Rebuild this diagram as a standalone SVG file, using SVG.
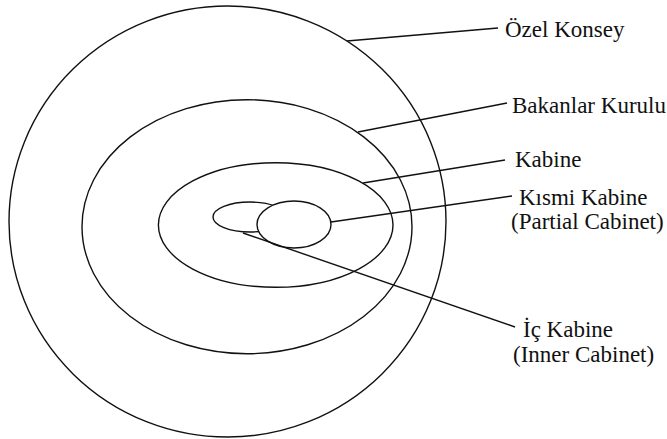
<svg xmlns="http://www.w3.org/2000/svg" width="667" height="439" viewBox="0 0 667 439">
<style>
.shape{fill:#fff;stroke:#111;stroke-width:1.4}
.conn{stroke:#111;stroke-width:1.4;fill:none}
.lbl{font-family:'Liberation Serif','Times New Roman',Times,serif;font-size:23px;fill:#111}
</style>
<rect x="0" y="0" width="667" height="439" fill="#fff"/>
<g id="ozel-konsey"><ellipse class="shape" cx="227.5" cy="221.5" rx="218.5" ry="215.5"/></g>
<g id="bakanlar-kurulu"><ellipse class="shape" cx="247" cy="226.7" rx="165" ry="127"/></g>
<g id="kabine"><ellipse class="shape" cx="275.7" cy="225" rx="117.3" ry="62.3"/></g>
<g id="ic-kabine"><ellipse class="shape" cx="250" cy="217" rx="37" ry="15"/></g>
<g id="kismi-kabine"><ellipse class="shape" cx="294" cy="224.5" rx="37" ry="23.5"/></g>
<g id="connectors">
<line class="conn" x1="347" y1="41" x2="498" y2="28"/>
<line class="conn" x1="358" y1="132" x2="507" y2="103"/>
<line class="conn" x1="363" y1="183" x2="505" y2="160"/>
<line class="conn" x1="331" y1="222" x2="512" y2="196"/>
<line class="conn" x1="243" y1="233" x2="515" y2="327"/>
</g>
<g id="labels">
<text class="lbl" x="505" y="37" font-family="'Liberation Serif', 'Times New Roman', Times, serif">&#214;zel Konsey</text>
<text class="lbl" x="512" y="113" font-family="'Liberation Serif', 'Times New Roman', Times, serif">Bakanlar Kurulu</text>
<text class="lbl" x="515" y="167" font-family="'Liberation Serif', 'Times New Roman', Times, serif">Kabine</text>
<text class="lbl" x="519" y="205" font-family="'Liberation Serif', 'Times New Roman', Times, serif">K&#305;smi Kabine</text>
<text class="lbl" x="511" y="229" font-family="'Liberation Serif', 'Times New Roman', Times, serif">(Partial Cabinet)</text>
<text class="lbl" x="523" y="337" font-family="'Liberation Serif', 'Times New Roman', Times, serif">&#304;&#231; Kabine</text>
<text class="lbl" x="513" y="362" font-family="'Liberation Serif', 'Times New Roman', Times, serif">(Inner Cabinet)</text>
</g>
</svg>
